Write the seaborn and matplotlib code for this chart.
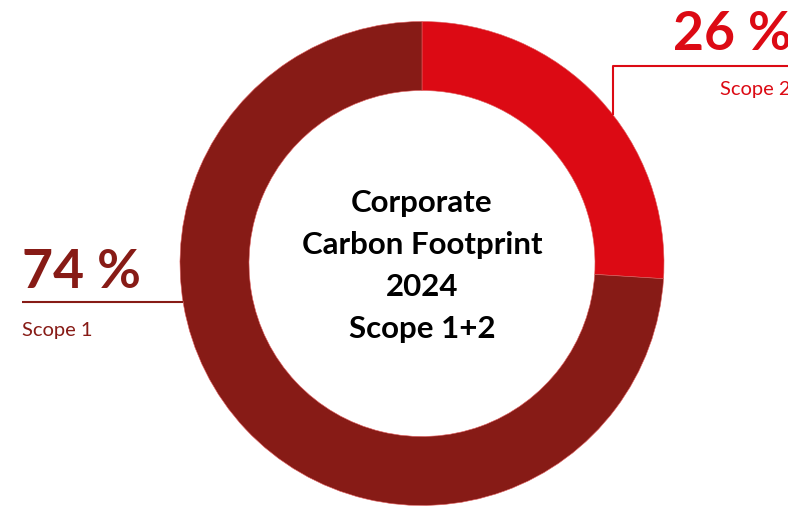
import matplotlib
matplotlib.use("Agg")
import matplotlib.pyplot as plt
import seaborn as sns

# data
scopes = ["Scope 2", "Scope 1"]
shares = [26, 74]
share_labels = ["26 %", "74 %"]
colours = ["#DC0A14", "#871B16"]
centre_title = "Corporate\nCarbon Footprint\n2024\nScope 1+2"

sns.set_theme(style="white")
plt.rcParams["font.family"] = ["Lato", "DejaVu Sans"]

W, H = 788, 507
fig = plt.figure(figsize=(W / 100, H / 100), dpi=100)
ax = fig.add_axes([0, 0, 1, 1])


def fy(y):
    # image y (top down) -> data y
    return H - y


cx, cy, r_out = 422, fy(263.5), 242
ax.pie(
    shares,
    colors=colours,
    startangle=90,
    counterclock=False,
    center=(cx, cy),
    radius=r_out,
    wedgeprops=dict(width=r_out - 173, edgecolor="#e06060", linewidth=0.4),
    frame=True,
)
ax.set_xlim(0, W)
ax.set_ylim(0, H)
ax.set_aspect("equal")
ax.axis("off")

ax.text(cx, fy(266), centre_title, ha="center", va="center",
        fontsize=22.5, fontweight="bold", color="black", linespacing=1.6)

# Scope 2 label (top right), cut off at the edge like the original
ax.plot([613, 613, W], [fy(115), fy(66), fy(66)], color=colours[0], lw=1.5,
        solid_capstyle="butt")
ax.text(673, fy(50), share_labels[0], ha="left", va="baseline",
        fontsize=38.5, fontweight="bold", color=colours[0])
ax.text(720, fy(95), scopes[0], ha="left", va="baseline",
        fontsize=14.5, color=colours[0])

# Scope 1 label (left)
ax.plot([22, 183], [fy(301.5), fy(301.5)], color=colours[1], lw=1.5,
        solid_capstyle="butt")
ax.text(22, fy(288), share_labels[1], ha="left", va="baseline",
        fontsize=38.5, fontweight="bold", color=colours[1])
ax.text(22, fy(336), scopes[1], ha="left", va="baseline",
        fontsize=14.5, color=colours[1])

plt.savefig("out.png", dpi=100)
